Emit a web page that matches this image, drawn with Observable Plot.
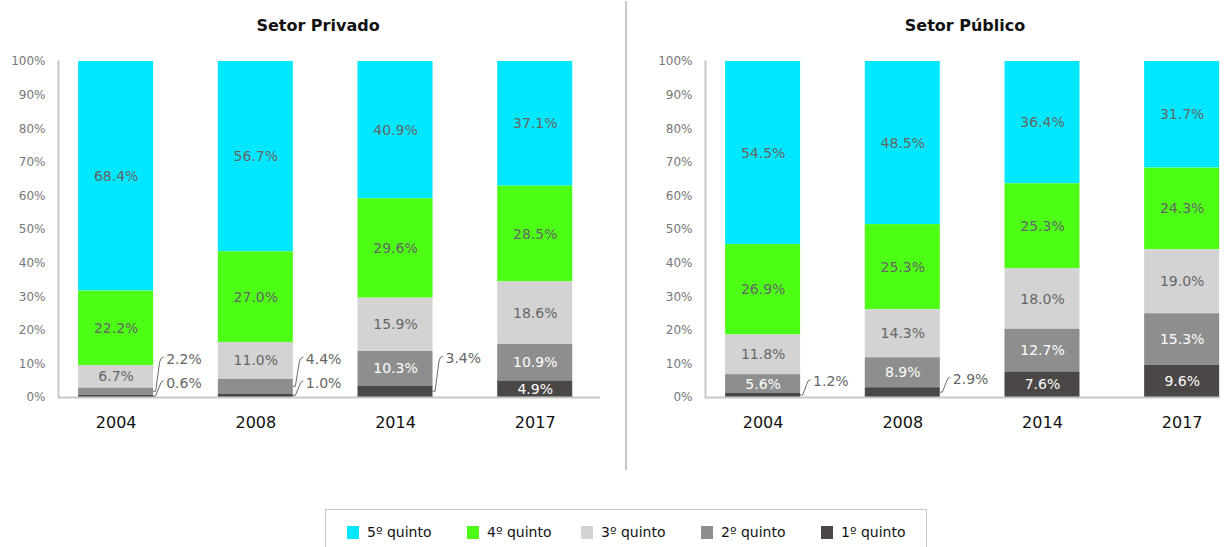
<!DOCTYPE html>
<html>
<head>
<meta charset="utf-8">
<script src="https://cdn.jsdelivr.net/npm/d3@7"></script>
<script src="https://cdn.jsdelivr.net/npm/@observablehq/plot@0.6"></script>
<style>
  html, body { margin: 0; padding: 0; background: #fff; }
  body { width: 1230px; height: 547px; overflow: hidden; position: relative; font-family: "DejaVu Sans", sans-serif; }
  .title { position: absolute; top: 16px; width: 300px; text-align: center; font-weight: bold; font-size: 16px; color: #111; z-index: 5; }
  #left { position: absolute; left: 0; top: 0; }
  #right { position: absolute; left: 647px; top: 0; }
  #sep { position: absolute; left: 625px; top: 1px; width: 2px; height: 469px; background: #c6c6c6; z-index: 4; }
  #legend { position: absolute; left: 325px; top: 509px; width: 602px; height: 50px; border: 1px solid #c8c8c8; box-sizing: border-box; }
  .item { position: absolute; top: 14px; font-size: 14px; color: #111; line-height: 16px; white-space: nowrap; }
  .sw { display: inline-block; width: 12px; height: 13px; vertical-align: -2px; margin-right: 8px; }
</style>
</head>
<body>
<div id="left"></div>
<div id="sep"></div>
<div id="right"></div>
<div class="title" style="left:168px">Setor Privado</div>
<div class="title" style="left:815px">Setor Público</div>
<div id="legend"></div>
<script>
// ---- data ----
const years = ["2004", "2008", "2014", "2017"];
const quintiles = ["5º quinto", "4º quinto", "3º quinto", "2º quinto", "1º quinto"];
const quintileColors = ["#00E8FF", "#4CFF14", "#D3D3D3", "#8E8E8E", "#4B4747"];
const yTicks = [0, 0.1, 0.2, 0.3, 0.4, 0.5, 0.6, 0.7, 0.8, 0.9, 1];

// Setor Privado (%), by year
const privQ5 = [68.4, 56.7, 40.9, 37.1];
const privQ4 = [22.2, 27.0, 29.6, 28.5];
const privQ3 = [6.7, 11.0, 15.9, 18.6];
const privQ2 = [2.2, 4.4, 10.3, 10.9];
const privQ1 = [0.6, 1.0, 3.4, 4.9];

// Setor Público (%), by year
const pubQ5 = [54.5, 48.5, 36.4, 31.7];
const pubQ4 = [26.9, 25.3, 25.3, 24.3];
const pubQ3 = [11.8, 14.3, 18.0, 19.0];
const pubQ2 = [5.6, 8.9, 12.7, 15.3];
const pubQ1 = [1.2, 2.9, 7.6, 9.6];

// layout: where the outside (callout) labels sit, in % of the axis
const privCallouts = [
  {year: "2004", q: "1º quinto", at: 4.2},
  {year: "2004", q: "2º quinto", at: 11.3},
  {year: "2008", q: "1º quinto", at: 4.2},
  {year: "2008", q: "2º quinto", at: 11.3},
  {year: "2014", q: "1º quinto", at: 11.6}
];
const pubCallouts = [
  {year: "2004", q: "1º quinto", at: 4.6},
  {year: "2008", q: "1º quinto", at: 5.3}
];

// ---- build ----
const stackOrder = quintiles.slice().reverse(); // 1º at bottom
const fmt = v => d3.format(".1f")(v) + "%";
const darkQ = new Set(["2º quinto", "1º quinto"]);

function rowsOf(series) {
  const rows = [];
  quintiles.forEach((q, qi) => years.forEach((y, yi) => rows.push({year: y, q, value: series[qi][yi]})));
  return rows;
}

function leaders(rows, callouts) {
  return (index, scales) => {
    const g = d3.create("svg:g").attr("text-anchor", "start");
    const bw = scales.x.bandwidth();
    for (const c of callouts) {
      const yr = rows.filter(r => r.year === c.year);
      const total = d3.sum(yr, r => r.value);
      let cum = 0, mid = 0;
      for (const q of stackOrder) {
        const r = yr.find(d => d.q === q);
        if (q === c.q) { mid = (cum + r.value / 2) / total; break; }
        cum += r.value;
      }
      const x0 = scales.x(c.year) + bw;
      const y0 = scales.y(mid);
      const y1 = scales.y(c.at / 100);
      g.append("path")
        .attr("d", `M${x0},${y0}H${x0 + 2.5}L${x0 + 6.5},${y1 + 3}Q${x0 + 7.3},${y1 - 1.5} ${x0 + 10.5},${y1 - 2}`)
        .attr("fill", "none").attr("stroke", "#6a6a6a").attr("stroke-width", 1);
      const val = yr.find(d => d.q === c.q).value;
      g.append("text")
        .attr("x", x0 + 13).attr("y", y1).attr("dy", "0.35em")
        .attr("text-anchor", "start")
        .attr("fill", "#666").attr("font-size", 14)
        .text(fmt(val));
    }
    return g.node();
  };
}

function chart(series, callouts, width, xOpts) {
  const rows = rowsOf(series);
  const stackOpts = {x: "year", y: "value", z: "q", order: stackOrder, offset: "normalize"};
  const outside = new Set(callouts.map(c => c.year + "|" + c.q));
  return Plot.plot({
    width, height: 470,
    marginLeft: 58, marginRight: 0, marginTop: 61, marginBottom: 73,
    style: {fontFamily: "DejaVu Sans, sans-serif", background: "transparent", overflow: "visible"},
    x: {domain: years, paddingInner: 0.463, round: false, ...xOpts, label: null},
    y: {domain: [0, 1], label: null},
    color: {domain: quintiles, range: quintileColors},
    marks: [
      Plot.barY(rows, Plot.stackY({...stackOpts, fill: "q"})),
      Plot.text(rows, Plot.stackY({...stackOpts,
        text: d => (outside.has(d.year + "|" + d.q) || darkQ.has(d.q)) ? "" : fmt(d.value),
        fill: "#666", fontSize: 14})),
      Plot.text(rows, Plot.stackY({...stackOpts,
        text: d => (outside.has(d.year + "|" + d.q) || !darkQ.has(d.q)) ? "" : fmt(d.value),
        fill: "#fff", fontSize: 14})),
      Plot.frame({anchor: "left", stroke: "#c8c8c8", strokeWidth: 2}),
      Plot.ruleY([0], {stroke: "#c8c8c8", strokeWidth: 2}),
      Plot.axisY({ticks: yTicks, tickSize: 0, tickPadding: 13, tickFormat: d3.format(".0%"), fontSize: 12, fill: "#777", label: null}),
      Plot.axisX({tickSize: 0, tickPadding: 19, fontSize: 16, fill: "#111", label: null}),
      leaders(rows, callouts)
    ]
  });
}

document.getElementById("left").append(
  chart([privQ5, privQ4, privQ3, privQ2, privQ1], privCallouts, 600, {paddingOuter: 0.1715, align: 0.42}));
document.getElementById("right").append(
  chart([pubQ5, pubQ4, pubQ3, pubQ2, pubQ1], pubCallouts, 573, {paddingOuter: 0.075, align: 0.96}));

// legend
const legendX = [21, 141, 255, 375, 495];
const legend = document.getElementById("legend");
quintiles.forEach((q, i) => {
  const it = document.createElement("div");
  it.className = "item";
  it.style.left = legendX[i] + "px";
  it.innerHTML = `<span class="sw" style="background:${quintileColors[i]}"></span>${q}`;
  legend.append(it);
});
</script>
</body>
</html>
